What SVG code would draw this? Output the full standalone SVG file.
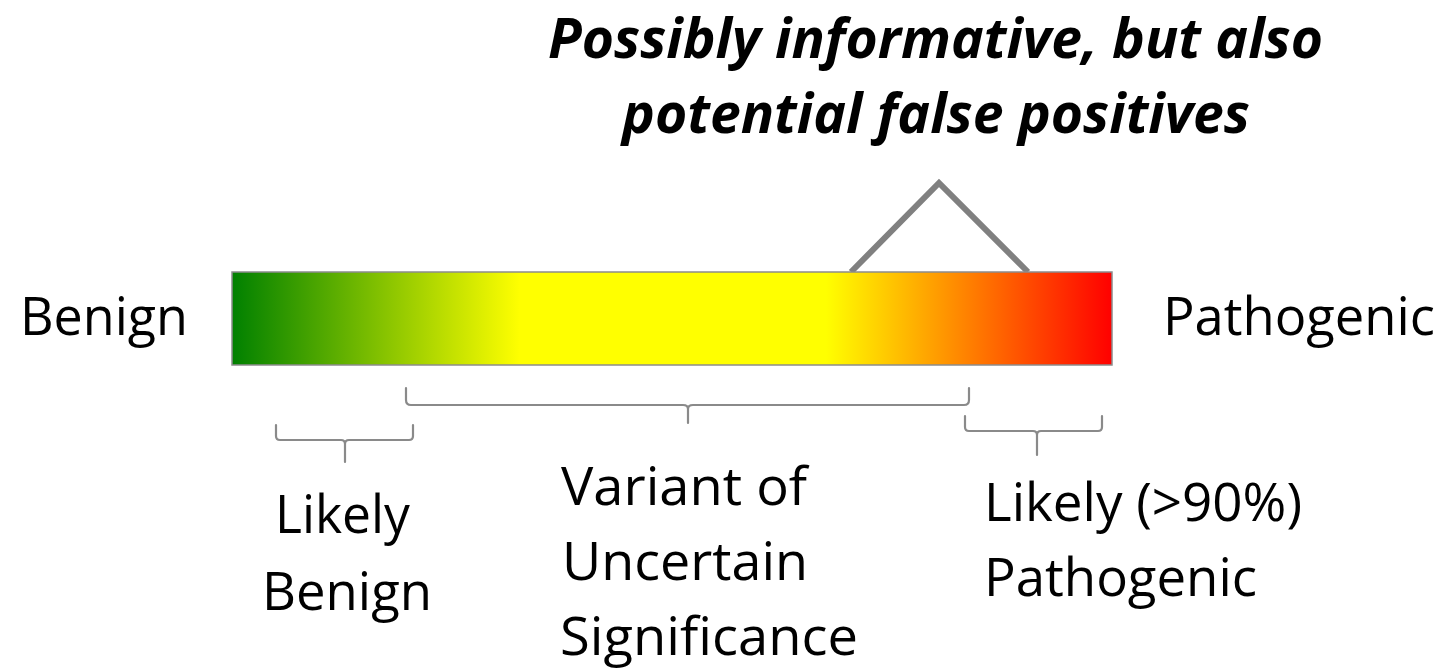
<svg xmlns="http://www.w3.org/2000/svg" width="1454" height="672" viewBox="0 0 1454 672">
<style>
  .t { font-family: "Open Sans", "Liberation Sans", sans-serif; font-size: 53px; fill: #000; }
  .title { font-family: "Open Sans", "Liberation Sans", sans-serif; font-size: 56px; font-weight: bold; font-style: italic; fill: #000; }
  .brace { fill: none; stroke: #8a8a8a; stroke-width: 2.2; stroke-linejoin: round; stroke-linecap: round; }
</style>
<defs>
  <linearGradient id="scale" x1="0" y1="0" x2="1" y2="0">
    <stop offset="0" stop-color="#008000"/>
    <stop offset="0.327" stop-color="#ffff00"/>
    <stop offset="0.675" stop-color="#ffff00"/>
    <stop offset="1" stop-color="#ff0000"/>
  </linearGradient>
</defs>
<rect width="1454" height="672" fill="#ffffff"/>

<g id="title">
  <text class="title" x="548" y="58" textLength="775" lengthAdjust="spacingAndGlyphs">Possibly informative, but also</text>
  <text class="title" x="622" y="133" textLength="628" lengthAdjust="spacingAndGlyphs">potential false positives</text>
</g>

<g id="connectors">
  <polyline points="851,272 939,183 1028,272" fill="none" stroke="#808080" stroke-width="6"/>
  <path id="brace-lb" class="brace" d="M276,425 L276,436 Q276,440 280,440 L341,440 Q345,440 345,444 L345,462 M345,444 Q345,440 349,440 L409,440 Q413,440 413,436 L413,425"/>
  <path id="brace-vus" class="brace" d="M406,388 L406,400 Q406,405 411,405 L683,405 Q688,405 688,409 L688,423 M688,409 Q688,405 693,405 L964,405 Q969,405 969,400 L969,388"/>
  <path id="brace-lp" class="brace" d="M965,416 L965,427 Q965,431 969,431 L1033,431 Q1037,431 1037,435 L1037,455 M1037,435 Q1037,431 1041,431 L1098,431 Q1102,431 1102,427 L1102,416"/>
</g>

<g id="scale-bar">
  <rect x="232" y="272" width="880" height="93" fill="url(#scale)" stroke="#8c8c8c" stroke-width="1.5"/>
</g>

<g id="benign">
  <text class="t" x="20" y="335" textLength="168" lengthAdjust="spacingAndGlyphs">Benign</text>
</g>
<g id="pathogenic">
  <text class="t" x="1163" y="335" textLength="272" lengthAdjust="spacingAndGlyphs">Pathogenic</text>
</g>
<g id="likely-benign">
  <text class="t" x="275" y="533" textLength="135" lengthAdjust="spacingAndGlyphs">Likely</text>
  <text class="t" x="262" y="610" textLength="170" lengthAdjust="spacingAndGlyphs">Benign</text>
</g>
<g id="vus">
  <text class="t" x="561" y="505" textLength="246" lengthAdjust="spacingAndGlyphs">Variant of</text>
  <text class="t" x="562" y="580" textLength="246" lengthAdjust="spacingAndGlyphs">Uncertain</text>
  <text class="t" x="560" y="655" textLength="298" lengthAdjust="spacingAndGlyphs">Significance</text>
</g>
<g id="likely-pathogenic">
  <text class="t" x="984" y="521" textLength="318" lengthAdjust="spacingAndGlyphs">Likely (&gt;90%)</text>
  <text class="t" x="984" y="596" textLength="273" lengthAdjust="spacingAndGlyphs">Pathogenic</text>
</g>
</svg>
